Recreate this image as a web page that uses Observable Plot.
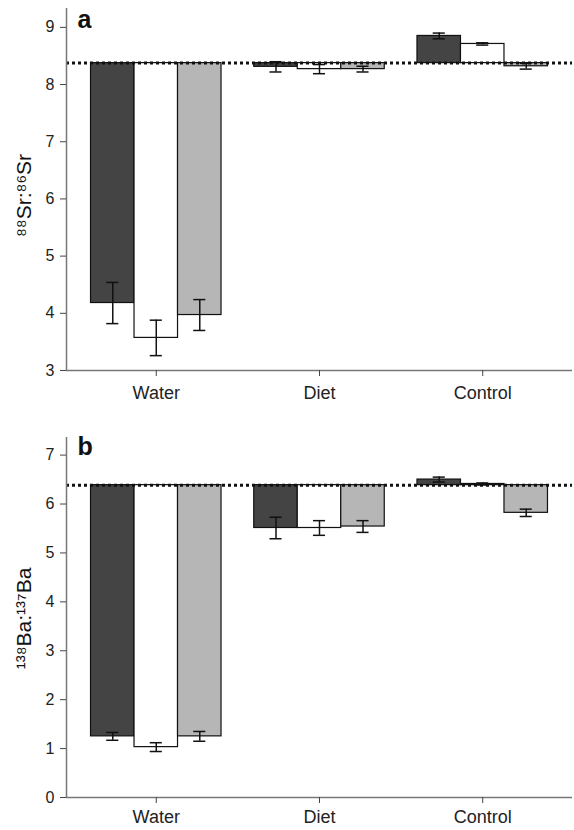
<!DOCTYPE html>
<html>
<head>
<meta charset="utf-8">
<script src="https://cdn.jsdelivr.net/npm/d3@7"></script>
<script src="https://cdn.jsdelivr.net/npm/@observablehq/plot@0.6"></script>
<style>
  body { margin: 0; background: #fff; }
  #chart svg { display: block; }
</style>
</head>
<body>
<div id="chart"></div>
<script>
// ---- data ----
const categories = ["Water", "Diet", "Control"];
const series = ["S1", "S2", "S3"];

// 88Sr:86Sr (panel a): mean and error per category (rows) and series (cols)
const srMean = [[4.18, 3.57, 3.97], [8.31, 8.27, 8.27], [8.85, 8.71, 8.32]];
const srErr  = [[0.36, 0.31, 0.27], [0.09, 0.08, 0.05], [0.05, 0.02, 0.05]];
const srRef = 8.375;
const srTicks = [3, 4, 5, 6, 7, 8, 9];

// 138Ba:137Ba (panel b)
const baMean = [[1.25, 1.03, 1.25], [5.51, 5.51, 5.54], [6.50, 6.41, 5.82]];
const baErr  = [[0.08, 0.09, 0.10], [0.22, 0.15, 0.12], [0.05, 0.02, 0.075]];
const baRef = 6.386;
const baTicks = [0, 1, 2, 3, 4, 5, 6, 7];

// ---- styling / layout ----
const fills = ["#444444", "#ffffff", "#b6b6b6"];
const xDomain = [-0.55, 2.55];
const barW = 0.2665;
const capHalf = 0.037;
const font = "'Liberation Sans', Arial, Helvetica, sans-serif";

function rows(means, errs) {
  const out = [];
  categories.forEach((c, i) => series.forEach((s, j) => {
    const x1 = i + (j - 1.5) * barW;
    out.push({category: c, series: s, x1, x2: x1 + barW, xc: x1 + barW / 2,
              mean: means[i][j], lo: means[i][j] - errs[i][j], hi: means[i][j] + errs[i][j]});
  }));
  return out;
}

function panel({means, errs, ref, yDomain, ticks, label, letter, height, marginTop, marginBottom, xPad, labelDy, letterDy}) {
  const data = rows(means, errs);
  return Plot.plot({
    width: 574,
    height,
    marginTop,
    marginBottom,
    marginLeft: 66,
    marginRight: 2,
    style: {fontFamily: font, color: "#222", background: "#fff"},
    x: {type: "linear", domain: xDomain},
    y: {domain: yDomain},
    color: {domain: series, range: fills},
    marks: [
      Plot.rect(data, {x1: "x1", x2: "x2", y1: () => ref, y2: "mean", fill: "series", stroke: "#111", strokeWidth: 1.2}),
      Plot.ruleY([ref], {stroke: "#111", strokeWidth: 3, strokeDasharray: "3,3"}),
      Plot.ruleX(data, {x: "xc", y1: "lo", y2: "hi", stroke: "#111", strokeWidth: 1.5}),
      Plot.ruleY(data, {y: "lo", x1: d => d.xc - capHalf, x2: d => d.xc + capHalf, stroke: "#111", strokeWidth: 1.5}),
      Plot.ruleY(data, {y: "hi", x1: d => d.xc - capHalf, x2: d => d.xc + capHalf, stroke: "#111", strokeWidth: 1.5}),
      // axis lines
      Plot.ruleY([yDomain[0]], {stroke: "#777", strokeWidth: 1.5}),
      Plot.ruleX([xDomain[0]], {y1: yDomain[0], y2: yDomain[1], stroke: "#777", strokeWidth: 1.5}),
      Plot.axisY({ticks, tickFormat: d3.format("d"), tickSize: 6, tickPadding: 6, fontSize: 16, label: null, stroke: "#444"}),
      Plot.axisX({ticks: categories.map((c, i) => i), tickFormat: i => categories[i], tickSize: 6,
                  tickPadding: xPad, fontSize: 18, label: null, stroke: "#444"}),
      Plot.text([label], {frameAnchor: "left", textAnchor: "middle", dx: -42, dy: labelDy, rotate: -90, fontSize: 21, fill: "#111"}),
      Plot.text([letter], {frameAnchor: "top-left", dx: 11, dy: letterDy, fontSize: 25, fontWeight: "bold", fill: "#111", textAnchor: "start"})
    ]
  });
}

const chart = document.getElementById("chart");
chart.append(panel({
  means: srMean, errs: srErr, ref: srRef, yDomain: [3, 9.33], ticks: srTicks,
  label: "⁸⁸Sr:⁸⁶Sr", letter: "a", height: 420, marginTop: 8, marginBottom: 50, xPad: 10, labelDy: 6, letterDy: 2
}));
chart.append(panel({
  means: baMean, errs: baErr, ref: baRef, yDomain: [0, 7.36], ticks: baTicks,
  label: "¹³⁸Ba:¹³⁷Ba", letter: "b", height: 410, marginTop: 17, marginBottom: 33, xPad: 7, labelDy: 1, letterDy: 0
}));
</script>
</body>
</html>
